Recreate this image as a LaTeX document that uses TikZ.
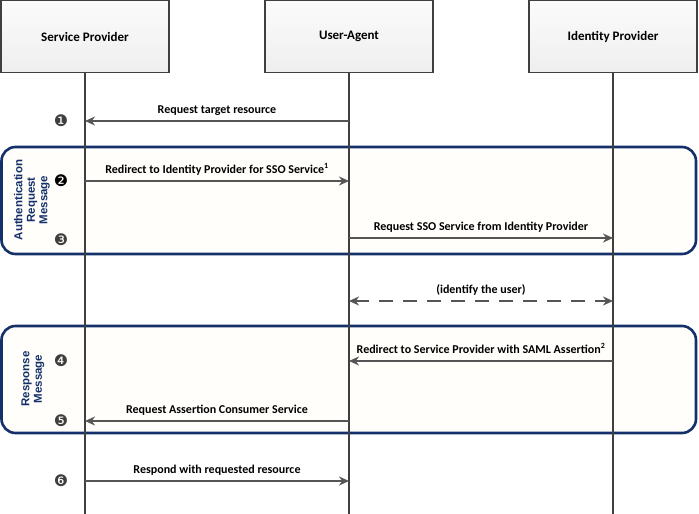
\documentclass[tikz,border=0pt]{standalone}
\usepackage{fontspec}
\setmainfont{Carlito}
\newfontfamily\sidefont{Liberation Sans}
\newfontfamily\numfont{DejaVu Sans}
\usetikzlibrary{arrows.meta, positioning}
\definecolor{navy}{HTML}{14306A}
\definecolor{arrowgray}{HTML}{555555}
\definecolor{linegray}{HTML}{3F3F3F}
\definecolor{phasefill}{HTML}{FFFEFA}
\tikzstyle{actor} = [draw=linegray, line width=1.5pt, top color=gray!3, bottom color=gray!13, minimum width=168pt, minimum height=72pt, font=\fontsize{13}{15}\selectfont\bfseries]
\tikzstyle{lifeline} = [draw=linegray, line width=1.4pt]
\tikzstyle{msg} = [draw=arrowgray, line width=1.6pt, -{Stealth[length=10pt,width=9pt]}]
\tikzstyle{msglabel} = [font=\fontsize{12}{14}\selectfont\bfseries, anchor=base, yshift=8pt]
\tikzstyle{phase} = [draw=navy, line width=2.6pt, rounded corners=14pt, fill=phasefill]
\tikzstyle{phaselabel} = [rotate=90, align=center, text=navy, font=\sidefont\fontsize{11.5}{12.5}\selectfont\bfseries]
\tikzstyle{stepnum} = [font=\numfont\fontsize{16}{16}\selectfont, text=linegray]

\begin{document}
\begin{tikzpicture}[x=1pt, y=-1pt]
    \useasboundingbox (0,0) rectangle (699,514);
    \draw[phase] (1.5,147) rectangle (696,254);
    \draw[phase] (1.5,326) rectangle (696,433);
    \node[phaselabel] (authlabel) at (32,200) {Authentication\\Request\\Message};
    \node[phaselabel] (resplabel) at (33,379) {Response\\Message};
    \node[actor] (sp) at (85,36.5) {Service Provider};
    \node[actor] (ua) at (349,36.5) {User-Agent};
    \node[actor] (idp) at (613,36.5) {Identity Provider};
    \foreach \name/\x in {sp/85, ua/349, idp/613} {
        \coordinate (\name end) at (\x,514);
        \draw[lifeline] (\name) -- (\name end);
        \foreach \k/\y in {1/121, 2/181, 3/238, 4/301, 5/361, 6/421, 7/481}
            \coordinate (\name\k) at (\x,\y);
    }
    \node[stepnum] (n1) at (61,121) {❶};
    \node[stepnum, text=black] (n2) at (61,181) {❷};
    \node[stepnum] (n3) at (61,240) {❸};
    \node[stepnum] (n4) at (61,361) {❹};
    \node[stepnum] (n5) at (61,421) {❺};
    \node[stepnum] (n6) at (61,481) {❻};
    \draw[msg] (ua1) -- node[msglabel] {Request target resource} (sp1);
    \draw[msg] (sp2) -- node[msglabel] {Redirect to Identity Provider for SSO Service\textsuperscript{1}} (ua2);
    \draw[msg] (ua3) -- node[msglabel] {Request SSO Service from Identity Provider} (idp3);
    \draw[msg, {Stealth[length=10pt,width=9pt]}-{Stealth[length=10pt,width=9pt]}, dash pattern=on 14pt off 10pt] (ua4) -- node[msglabel] {(identify the user)} (idp4);
    \draw[msg] (idp5) -- node[msglabel] {Redirect to Service Provider with SAML Assertion\textsuperscript{2}} (ua5);
    \draw[msg] (ua6) -- node[msglabel] {Request Assertion Consumer Service} (sp6);
    \draw[msg] (sp7) -- node[msglabel] {Respond with requested resource} (ua7);
\end{tikzpicture}
\end{document}
